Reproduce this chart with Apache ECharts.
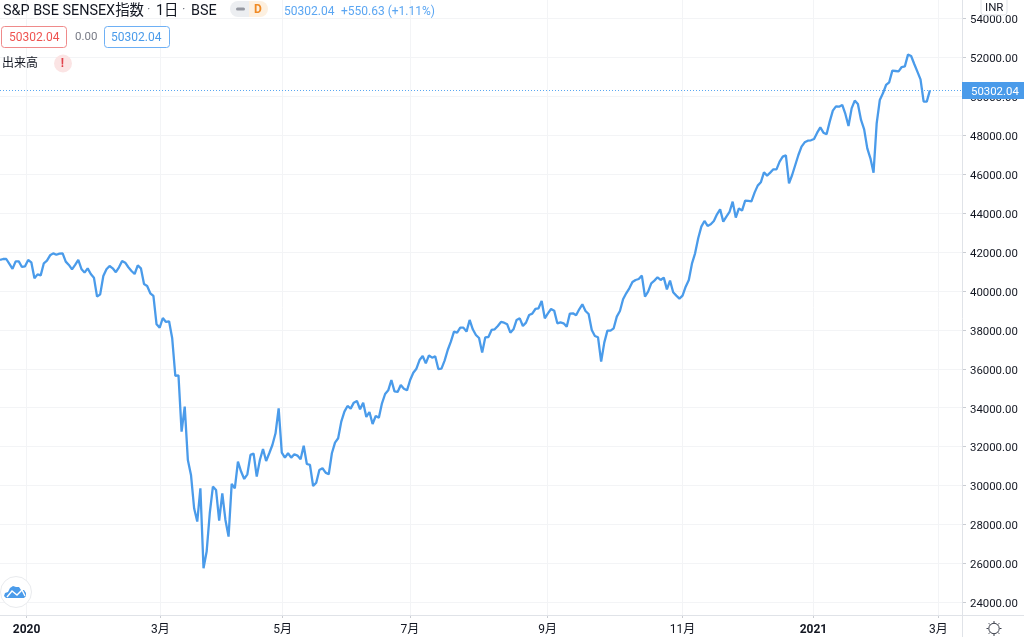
<!DOCTYPE html>
<html>
<head>
<meta charset="utf-8">
<style>html,body{margin:0;padding:0;background:#fff}#c{width:1024px;height:637px}</style>
<script src="https://cdn.jsdelivr.net/npm/echarts@6/dist/echarts.min.js"></script>
</head>
<body>
<div id="c"></div>
<script>
const closes = [
41590,41640,41640,41385,41130,41520,41520,41230,41265,41590,
41470,40650,40850,40800,41420,41555,41830,41930,41860,41915,
41930,41505,41335,41110,41335,41590,41130,40940,41160,40870,
40680,39705,39825,40770,41110,41280,41160,40960,41215,41540,
41450,41215,41025,40870,41315,41160,40357,40255,39880,39740,
38285,38115,38610,38405,38440,37565,35630,35665,32770,34055,
31317,30547,28835,28150,29860,25750,26610,28580,29950,29775,
28200,29605,28235,27380,30085,29860,31230,30720,30340,30580,
31575,31640,30460,31317,31880,31265,31660,32085,32685,33970,
31695,31437,31660,31437,31610,31540,31350,32050,31110,31060,
29980,30150,30800,30890,30666,30580,31660,32207,32430,33285,
33800,34090,33955,34260,34345,33920,34260,33525,33780,33165,
33575,33490,34227,34705,34895,35425,34840,34810,35170,34980,
34895,35425,35800,36005,36450,36660,36280,36690,36570,36640,
35990,36005,36420,36965,37395,37910,37855,38115,38115,37910,
38507,38030,37737,37580,36830,37617,37634,37994,38028,38200,
38405,38370,38285,37857,38028,38507,38593,38200,38370,38765,
38833,39072,39107,39483,38593,38850,39072,38987,38336,38388,
38336,38165,38833,38850,38747,39055,39312,38970,38815,37994,
37686,37617,36367,37343,37960,37960,38080,38679,38970,39569,
39877,40134,40459,40562,40613,40784,39706,39963,40391,40528,
40699,40562,40682,40082,40528,39928,39757,39603,39757,40220,
40562,41400,41933,42703,43303,43594,43337,43422,43594,43936,
44193,43560,43816,44056,44587,43765,44244,44124,44638,44621,
44604,45049,45408,45580,46093,45922,46076,46247,46247,46641,
46898,46966,45528,45956,46470,46983,47411,47634,47720,47737,
47805,48131,48405,48131,48045,48696,49260,49483,49466,49552,
49089,48473,49380,49774,49603,48781,48302,47326,46812,46076,
48610,49808,50151,50579,50716,51315,51298,51281,51503,51537,
52137,52068,51657,51264,50870,49723,49723,50302
];
const lastPrice = 50302.04;
const monthTickBars = [8.5, 51.2, 90.3, 130.9, 174.9, 218, 259.8, 299.7];
const monthTickLabels = ['2020', '3月', '5月', '7月', '9月', '11月', '2021', '3月'];
const yearLabels = ['2020', '2021'];
const priceTicks = [24000,26000,28000,30000,32000,34000,36000,38000,40000,42000,44000,46000,48000,50000,52000,54000];

const FONT = 'Roboto, "Noto Sans CJK JP", sans-serif';
const BLUE = '#4a9bea', TXT = '#131722', GRID = '#f3f4f6', FRAME = '#e0e3e8';
const chart = echarts.init(document.getElementById('c'), null, {renderer: 'canvas'});

function txt(x, y, text, size, fill, extra) {
  return {type: 'text', x, y: y + 3, z: 50, style: Object.assign({text, fontSize: size, fill, fontFamily: FONT, textVerticalAlign: 'middle', textBaseline: 'middle'}, extra || {})};
}
function box(x, y, w, h, r, stroke, fill) {
  return {type: 'rect', z: 49, shape: {x, y, width: w, height: h, r}, style: {stroke: stroke || null, fill: fill || null, lineWidth: 1}};
}
function ln(x1, y1, x2, y2, color, width) {
  return {type: 'line', z: 48, shape: {x1, y1, x2, y2}, style: {stroke: color || FRAME, lineWidth: width || 1}};
}
const SUN = '#3a3e4a';

chart.setOption({
  animation: false,
  backgroundColor: '#fff',
  grid: {left: 0, right: 62, top: 0, bottom: 22},
  xAxis: {
    type: 'value', min: 0, max: 307.25,
    axisLine: {show: false, onZero: false},
    axisTick: {show: true, length: 3, customValues: monthTickBars, lineStyle: {color: '#c9ccd2'}},
    splitLine: {show: true, lineStyle: {color: GRID, width: 1}},
    axisLabel: {
      customValues: monthTickBars, margin: 9, fontFamily: FONT, fontSize: 12, color: TXT,
      hideOverlap: false,
      formatter: function (v) {
        const t = monthTickLabels[monthTickBars.indexOf(v)];
        return yearLabels.includes(t) ? '{b|' + t + '}' : t;
      },
      rich: {b: {fontWeight: 'bold', fontSize: 12, color: TXT, fontFamily: FONT}}
    }
  },
  yAxis: {
    type: 'value', position: 'right', min: 23352, max: 54945,
    axisLine: {show: false, onZero: false},
    axisTick: {show: true, length: 4, customValues: priceTicks, lineStyle: {color: '#c9ccd2'}},
    splitLine: {show: true, lineStyle: {color: GRID, width: 1}},
    axisLabel: {
      customValues: priceTicks, margin: 8, fontFamily: FONT, fontSize: 11.4, color: TXT,
      verticalAlign: 'top', lineHeight: 4,
      formatter: v => v.toFixed(2)
    }
  },
  series: [{
    type: 'line', symbol: 'none', smooth: false,
    data: closes.map((v, i) => [i, v]),
    lineStyle: {color: BLUE, width: 2.3},
    markLine: {
      silent: true, symbol: 'none', animation: false,
      label: {show: false},
      lineStyle: {color: '#5aa7f0', type: [1, 2], width: 1},
      data: [{yAxis: lastPrice}]
    }
  }],
  graphic: [
    ln(0, 615.5, 1024, 615.5),
    ln(962.5, 0, 962.5, 637),
    {type: 'rect', z: 49, shape: {x: 962, y: 82, width: 62, height: 17}, style: {fill: BLUE}},
    txt(971, 88.8, '50302.04', 11.4, '#fff'),
    box(981, -3, 26, 18, 3, '#e0e3e8', '#fff'),
    txt(985, 5, 'INR', 11.5, TXT),
    txt(3, 8.5, 'S&P BSE SENSEX指数', 14.4, TXT),
    txt(147, 7, '·', 13, '#787b86'),
    txt(156, 8.5, '1日', 14.4, TXT),
    txt(182, 7, '·', 13, '#787b86'),
    txt(191, 8.5, 'BSE', 14.4, TXT),
    {type: 'rect', z: 49, shape: {x: 230, y: 1, width: 30, height: 16, r: 8}, style: {fill: '#eceef1'}},
    {type: 'rect', z: 49, shape: {x: 249, y: 1, width: 19, height: 16, r: [0, 8, 8, 0]}, style: {fill: '#fdf0e0'}},
    {type: 'rect', z: 50, shape: {x: 236, y: 7.5, width: 9, height: 3, r: 1.5}, style: {fill: '#9598a1'}},
    txt(254, 7, 'D', 12, '#f08a24', {fontWeight: 'bold'}),
    txt(284, 8.5, '50302.04', 12, '#5ba6f2'),
    txt(341, 8.5, '+550.63 (+1.11%)', 12, '#5ba6f2'),
    box(1.5, 26.5, 65, 21, 3, '#ef8a8a', '#fff'),
    txt(9, 34.5, '50302.04', 12, '#ef5350'),
    txt(75, 34.5, '0.00', 11.5, '#787b86'),
    box(104.5, 26.5, 65, 21, 3, '#6eb0f5', '#fff'),
    txt(111, 34.5, '50302.04', 12, '#4a9bea'),
    txt(2, 60.5, '出来高', 12, TXT),
    {type: 'circle', z: 49, shape: {cx: 63, cy: 63.5, r: 9}, style: {fill: '#fbe4e4'}},
    txt(60.8, 60.5, '!', 12, '#e0404a', {fontWeight: 'bold'}),
    {type: 'circle', z: 49, shape: {cx: 16, cy: 592, r: 15.5}, style: {fill: '#fff', stroke: '#e9ebee', lineWidth: 1}},
    {type: 'polygon', z: 50, shape: {points: [[6,598],[4,596],[5,593],[8,592],[10,588],[13,586],[16,587],[19,587],[21,590],[24,590],[26,593],[26,596],[24,598]]}, style: {fill: '#4a9bea'}},
    {type: 'polyline', z: 51, shape: {points: [[7, 597], [12, 591], [17, 595], [22, 590], [25, 596]]}, style: {stroke: '#fff', lineWidth: 1.4, fill: null}},
    {type: 'circle', z: 50, shape: {cx: 994, cy: 628.5, r: 5.2}, style: {stroke: SUN, fill: '#fff', lineWidth: 1}},
    ln(994, 621, 994, 623, SUN), ln(994, 634, 994, 636, SUN),
    ln(986.5, 628.5, 988.5, 628.5, SUN), ln(999.5, 628.5, 1001.5, 628.5, SUN),
    ln(988.7, 623.2, 990.2, 624.7, SUN), ln(997.8, 632.3, 999.3, 633.8, SUN),
    ln(988.7, 633.8, 990.2, 632.3, SUN), ln(997.8, 624.7, 999.3, 623.2, SUN)
  ]
});
</script>
</body>
</html>
